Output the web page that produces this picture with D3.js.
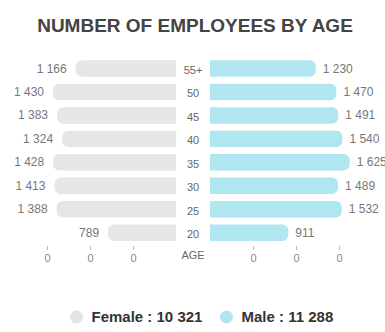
<!DOCTYPE html>
<html>
<head>
<meta charset="utf-8">
<script src="https://cdn.jsdelivr.net/npm/d3@7"></script>
<style>
  html, body { margin: 0; padding: 0; background: #fff; }
  svg { display: block; font-family: "Liberation Sans", Arial, sans-serif; }
</style>
</head>
<body>
<svg id="chart" width="385" height="332"></svg>
<script>
// Age groups, top to bottom
const ageGroups = ["55+", "50", "45", "40", "35", "30", "25", "20"];
// Head counts per age group
const femaleCounts = [1166, 1430, 1383, 1324, 1428, 1413, 1388, 789];
const maleCounts   = [1230, 1470, 1491, 1540, 1625, 1489, 1532, 911];
// Axis ticks and the labels printed under them
const axisTickValues = [500, 1000, 1500];
const axisTickLabels = ["0", "0", "0"];

const svg = d3.select("#chart");
const fmt = d3.formatLocale({ decimal: ".", thousands: " ", grouping: [3], currency: ["", ""] }).format(",d");

const centerX = 193;
const femaleRight = 176;
const maleLeft = 210;
const pxPer1500 = 129;

const y = d3.scaleBand()
  .domain(ageGroups)
  .range([56.8, 244.4])
  .paddingInner(0.3)
  .paddingOuter(0.15);

const xFemale = d3.scaleLinear().domain([0, 1500]).range([femaleRight, femaleRight - pxPer1500]);
const xMale = d3.scaleLinear().domain([0, 1500]).range([maleLeft, maleLeft + pxPer1500]);

// Bar with rounded corners only on its outer end
function halfRounded(x0, x1, yTop, h, r, side) {
  const p = d3.path();
  if (side === "left") {
    // x1 is the flat inner edge, x0 the rounded outer edge
    p.moveTo(x1, yTop);
    p.lineTo(x0 + r, yTop);
    p.arcTo(x0, yTop, x0, yTop + r, r);
    p.lineTo(x0, yTop + h - r);
    p.arcTo(x0, yTop + h, x0 + r, yTop + h, r);
    p.lineTo(x1, yTop + h);
  } else {
    p.moveTo(x0, yTop);
    p.lineTo(x1 - r, yTop);
    p.arcTo(x1, yTop, x1, yTop + r, r);
    p.lineTo(x1, yTop + h - r);
    p.arcTo(x1, yTop + h, x1 - r, yTop + h, r);
    p.lineTo(x0, yTop + h);
  }
  p.closePath();
  return p.toString();
}

// Title
svg.append("text")
  .attr("x", 195).attr("y", 31.5)
  .attr("text-anchor", "middle")
  .attr("font-size", 19).attr("font-weight", "bold")
  .attr("fill", "#444")
  .text("NUMBER OF EMPLOYEES BY AGE");

const rows = ageGroups.map((g, i) => ({ g, f: femaleCounts[i], m: maleCounts[i] }));
const radius = 6;

// Female bars (left)
svg.append("g").selectAll("path").data(rows).join("path")
  .attr("d", d => halfRounded(xFemale(d.f), femaleRight, y(d.g), y.bandwidth(), radius, "left"))
  .attr("fill", "#e6e6e6");

// Male bars (right)
svg.append("g").selectAll("path").data(rows).join("path")
  .attr("d", d => halfRounded(maleLeft, xMale(d.m), y(d.g), y.bandwidth(), radius, "right"))
  .attr("fill", "#b0e6ef");

// Value labels
svg.append("g").selectAll("text").data(rows).join("text")
  .attr("x", d => xFemale(d.f) - 9)
  .attr("y", d => y(d.g) + y.bandwidth() / 2 + 4)
  .attr("text-anchor", "end")
  .attr("font-size", 12).attr("fill", "#777")
  .text(d => fmt(d.f));

svg.append("g").selectAll("text").data(rows).join("text")
  .attr("x", d => xMale(d.m) + 7)
  .attr("y", d => y(d.g) + y.bandwidth() / 2 + 4)
  .attr("text-anchor", "start")
  .attr("font-size", 12).attr("fill", "#777")
  .text(d => fmt(d.m));

// Age group labels in the middle column
svg.append("g").selectAll("text").data(rows).join("text")
  .attr("x", centerX)
  .attr("y", d => y(d.g) + y.bandwidth() / 2 + 5.5)
  .attr("text-anchor", "middle")
  .attr("font-size", 11).attr("fill", "#666")
  .text(d => d.g);

svg.append("text")
  .attr("x", centerX).attr("y", 258.5)
  .attr("text-anchor", "middle")
  .attr("font-size", 11).attr("fill", "#666")
  .text("AGE");

// Bottom axes
const axisY = 246;
function styleAxis(g) {
  g.select(".domain").remove();
  g.selectAll(".tick line").attr("stroke", "#bbb");
  g.selectAll(".tick text").attr("fill", "#888").attr("font-size", 11).attr("font-family", "Liberation Sans, Arial, sans-serif");
}
const tickLabel = v => axisTickLabels[axisTickValues.indexOf(v)];

svg.append("g")
  .attr("transform", `translate(0,${axisY})`)
  .call(d3.axisBottom(xFemale).tickValues(axisTickValues).tickFormat(tickLabel).tickSize(4).tickPadding(4))
  .call(styleAxis);

svg.append("g")
  .attr("transform", `translate(0,${axisY})`)
  .call(d3.axisBottom(xMale).tickValues(axisTickValues).tickFormat(tickLabel).tickSize(4).tickPadding(4))
  .call(styleAxis);

// Legend with totals
const legendItems = [
  { label: "Female", total: d3.sum(femaleCounts), color: "#e3e3e3", cx: 76.5 },
  { label: "Male", total: d3.sum(maleCounts), color: "#b0e6ef", cx: 226.5 }
];
const legend = svg.append("g").selectAll("g").data(legendItems).join("g");
legend.append("circle")
  .attr("cx", d => d.cx).attr("cy", 317)
  .attr("r", 6.5)
  .attr("fill", d => d.color);
legend.append("text")
  .attr("x", d => d.cx + 15).attr("y", 322)
  .attr("font-size", 15).attr("font-weight", "bold")
  .attr("fill", "#333")
  .text(d => `${d.label} : ${fmt(d.total)}`);
</script>
</body>
</html>
